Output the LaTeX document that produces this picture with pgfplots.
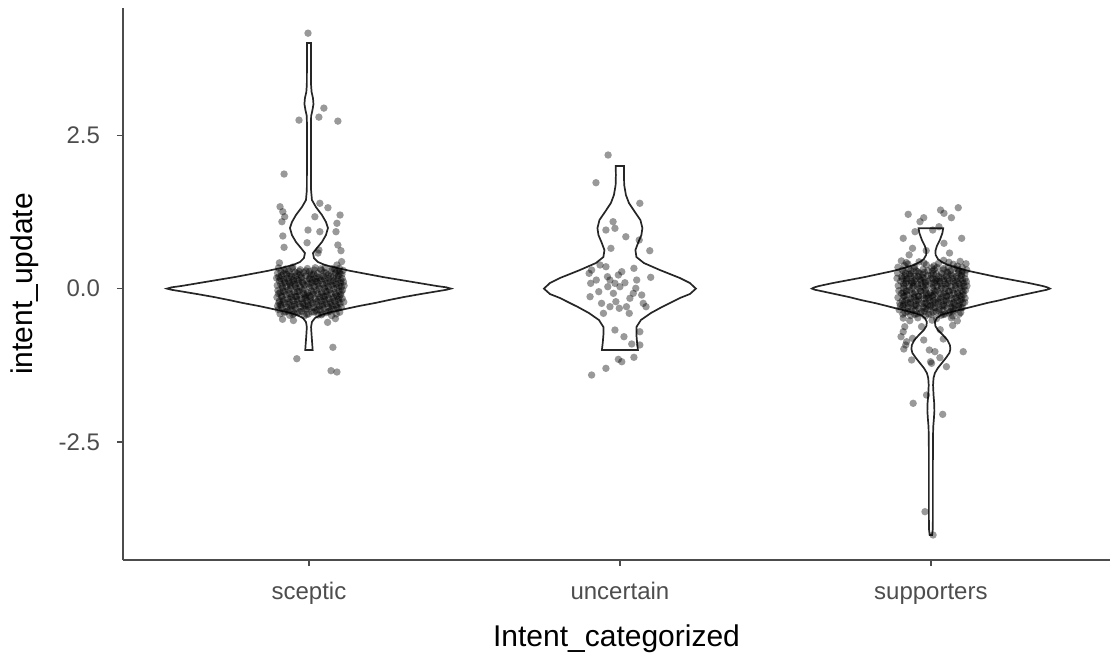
\documentclass[border=0pt]{standalone}
\usepackage{fontspec}
\setmainfont{Liberation Sans}
\usepackage{pgfplots}
\pgfplotsset{compat=1.18}
\usepackage{pgfplotstable}

\definecolor{axgray}{gray}{0.3}
\definecolor{txtgray}{HTML}{4D4D4D}

% violin outlines: y, half-width (in category units)
\pgfplotstableread{
y w
4.004 0
4.004 0.0064
3.727 0.0064
3.319 0.0068
3.205 0.0085
3.107 0.0129
3.009 0.0145
2.912 0.0113
2.814 0.0070
2.667 0.0064
2.097 0.0064
1.607 0.0068
1.444 0.0096
1.330 0.0225
1.200 0.0418
1.086 0.0547
0.988 0.0611
0.874 0.0547
0.760 0.0418
0.662 0.0257
0.580 0.0129
0.499 0.0161
0.434 0.0289
0.385 0.0514
0.336 0.0900
0.287 0.1350
0.238 0.1865
0.189 0.2379
0.140 0.2958
0.091 0.3537
0.042 0.4116
0.021 0.4420
0.000 0.4566
-0.019 0.4420
-0.039 0.4180
-0.088 0.3601
-0.137 0.3055
-0.186 0.2572
-0.235 0.2122
-0.284 0.1608
-0.333 0.1158
-0.382 0.0707
-0.430 0.0386
-0.479 0.0193
-0.544 0.0096
-0.626 0.0068
-0.756 0.0084
-0.887 0.0103
-1.001 0.0119
-1.001 0
}\vsceptic

\pgfplotstableread{
y w
1.999 0
1.999 0.0135
1.852 0.0129
1.689 0.0138
1.526 0.0193
1.396 0.0289
1.249 0.0482
1.118 0.0659
0.988 0.0723
0.874 0.0691
0.760 0.0595
0.629 0.0498
0.515 0.0531
0.417 0.0772
0.303 0.1286
0.173 0.1929
0.091 0.2251
0.000 0.2444
-0.088 0.2251
-0.153 0.1929
-0.235 0.1608
-0.300 0.1350
-0.398 0.0997
-0.512 0.0675
-0.626 0.0531
-0.756 0.0531
-0.887 0.0553
-1.001 0.0579
-1.001 0
}\vuncertain

\pgfplotstableread{
y w
0.983 0
0.983 0.0395
0.906 0.0370
0.792 0.0289
0.694 0.0193
0.613 0.0145
0.548 0.0154
0.483 0.0225
0.434 0.0354
0.385 0.0547
0.336 0.0868
0.287 0.1222
0.238 0.1672
0.189 0.2122
0.140 0.2637
0.091 0.3151
0.042 0.3601
0.020 0.3750
0.000 0.3826
-0.020 0.3720
-0.039 0.3537
-0.088 0.3087
-0.137 0.2637
-0.186 0.2251
-0.235 0.1801
-0.284 0.1415
-0.333 0.1029
-0.382 0.0643
-0.430 0.0322
-0.479 0.0193
-0.544 0.0129
-0.610 0.0145
-0.675 0.0225
-0.756 0.0386
-0.838 0.0531
-0.919 0.0611
-0.985 0.0627
-1.050 0.0595
-1.131 0.0482
-1.213 0.0354
-1.294 0.0225
-1.376 0.0129
-1.457 0.0085
-1.572 0.0070
-1.735 0.0085
-1.865 0.0106
-1.995 0.0113
-2.126 0.0096
-2.256 0.0075
-2.468 0.0066
-2.957 0.0064
-3.446 0.0064
-3.772 0.0064
-3.935 0.0058
-4.017 0.0040
-4.017 0
}\vsupporters

\begin{document}
\begin{tikzpicture}
\useasboundingbox (-61.5pt,-47.5pt) rectangle (493.5pt,280pt);
\begin{axis}[
  at={(0,0)}, anchor=south west,
  scale only axis, width=493.5pt, height=276pt,
  xmin=0.402, xmax=3.576, ymin=-4.425, ymax=4.575,
  axis x line*=bottom, axis y line*=left,
  axis line style={draw=axgray, line width=0.7pt, -},
  xtick={1,2,3}, xticklabels={sceptic,uncertain,supporters},
  ytick={-2.5,0,2.5}, yticklabels={-2.5,0.0,2.5},
  tick align=outside, major tick length=3pt,
  tick style={draw=axgray, line width=0.7pt},
  tick label style={font=\fontsize{12}{14}\selectfont, text=txtgray},
  xticklabel style={yshift=-4pt, text height=9pt, text depth=2.5pt},
  yticklabel style={xshift=-5pt},
  xlabel={Intent\_categorized},
  ylabel={intent\_update},
  xlabel style={at={(axis description cs:0.5,-0.156)}, anchor=base, font=\fontsize{15}{18}\selectfont, text=black},
  ylabel style={at={(axis description cs:-0.0912,0.5)}, anchor=base, font=\fontsize{15}{18}\selectfont, text=black},
  clip=false,
  violin/.style={draw=black!85, line width=0.85pt, no markers},
  pts/.style={only marks, color=black, mark=*, mark size=1.85pt, mark options={draw opacity=0, fill=black, fill opacity=0.4}},
]
\addplot[violin] table[x expr=1+\thisrow{w}, y=y] {\vsceptic};
\addplot[violin] table[x expr=1-\thisrow{w}, y=y] {\vsceptic};
\addplot[violin] table[x expr=2+\thisrow{w}, y=y] {\vuncertain};
\addplot[violin] table[x expr=2-\thisrow{w}, y=y] {\vuncertain};
\addplot[violin] table[x expr=3+\thisrow{w}, y=y] {\vsupporters};
\addplot[violin] table[x expr=3-\thisrow{w}, y=y] {\vsupporters};

% sceptic points
\addplot[pts] coordinates {
(0.997,4.165) (1.048,2.943) (1.032,2.796) (0.968,2.747) (1.093,2.731) (0.920,1.868)
(0.907,1.335) (0.916,1.254) (0.922,1.172) (0.913,1.091) (1.035,1.391) (1.061,1.319)
(1.100,1.200) (1.090,1.065) (0.997,0.955) (1.035,0.928) (1.019,1.172) (0.916,0.858)
(1.087,0.928) (0.920,0.673) (0.994,0.748) (1.032,0.629) (1.093,0.711) (1.103,0.618)
(1.090,0.385) (1.029,0.580) (0.905,0.420) (1.105,0.440)
(1.077,-0.957) (0.961,-1.143) (1.071,-1.338) (1.090,-1.360)
(0.915,-0.500) (1.085,-0.490) (1.060,-0.550) (0.950,-0.520)
(0.902,0.338) (0.948,0.352) (0.995,0.327) (1.052,0.345) (1.098,0.331)
(0.921,0.296) (0.968,0.281) (1.017,0.302) (1.071,0.288) (1.110,0.297)
(0.899,0.252) (0.940,0.239) (0.983,0.261) (1.028,0.246) (1.085,0.255)
(0.912,0.214) (0.957,0.205) (1.004,0.219) (1.046,0.201) (1.094,0.212) (0.977,0.192)
(0.930,0.168) (0.975,0.176) (1.021,0.161) (1.064,0.174) (1.107,0.165) (0.896,0.171)
(0.905,0.127) (0.950,0.136) (0.993,0.121) (1.038,0.133) (1.080,0.125) (1.012,0.142)
(0.923,0.094) (0.966,0.083) (1.009,0.097) (1.057,0.088) (1.101,0.091) (0.945,0.101)
(0.898,0.052) (0.941,0.046) (0.986,0.058) (1.030,0.041) (1.075,0.054) (1.113,0.048)
(0.915,0.013) (0.960,0.005) (1.002,0.019) (1.049,0.008) (1.090,0.016)
(0.934,-0.021) (0.979,-0.014) (1.024,-0.027) (1.067,-0.018) (1.108,-0.024) (0.900,-0.031)
(0.907,-0.062) (0.953,-0.055) (0.996,-0.068) (1.041,-0.059) (1.083,-0.064)
(0.926,-0.098) (0.970,-0.106) (1.013,-0.092) (1.059,-0.103) (1.102,-0.097) (0.988,-0.111)
(0.897,-0.142) (0.943,-0.135) (0.989,-0.148) (1.034,-0.139) (1.078,-0.145)
(0.917,-0.183) (0.962,-0.176) (1.006,-0.189) (1.052,-0.181) (1.095,-0.172)
(0.937,-0.221) (0.981,-0.229) (1.026,-0.214) (1.070,-0.226) (1.112,-0.219) (0.903,-0.232)
(0.909,-0.262) (0.955,-0.255) (0.998,-0.268) (1.044,-0.259) (1.087,-0.264)
(0.929,-0.302) (0.973,-0.295) (1.016,-0.309) (1.062,-0.298) (1.104,-0.306)
(0.901,-0.342) (0.946,-0.351) (0.991,-0.337) (1.036,-0.346) (1.081,-0.339)
(0.920,-0.388) (0.964,-0.395) (1.010,-0.382) (1.055,-0.392) (1.099,-0.385)
(0.938,-0.436) (0.985,-0.445) (1.030,-0.431) (1.073,-0.441)
(0.925,0.318) (0.972,0.309) (1.038,0.322) (1.083,0.312)
(0.910,0.274) (0.955,0.268) (1.002,0.279) (1.049,0.265) (1.097,0.271)
(0.928,0.231) (0.971,0.226) (1.015,0.236) (1.062,0.228) (1.106,0.233)
(0.903,0.188) (0.944,0.195) (1.033,0.184) (1.079,0.191)
(0.918,0.151) (0.962,0.145) (1.003,0.156) (1.051,0.148) (1.093,0.153)
(0.935,0.112) (0.979,0.106) (1.025,0.115) (1.069,0.108) (1.111,0.110)
(0.909,0.071) (0.955,0.066) (0.998,0.075) (1.044,0.069) (1.088,0.072)
(0.928,0.031) (0.972,0.026) (1.017,0.034) (1.062,0.028) (1.104,0.033)
(0.917,-0.041) (0.963,-0.046) (1.008,-0.038) (1.054,-0.044) (1.097,-0.040)
(0.938,-0.081) (0.982,-0.077) (1.028,-0.085) (1.071,-0.079) (0.902,-0.083)
(0.911,-0.121) (0.957,-0.126) (1.001,-0.118) (1.047,-0.124) (1.090,-0.120)
(0.931,-0.161) (0.976,-0.166) (1.020,-0.158) (1.064,-0.163) (1.107,-0.160)
(0.905,-0.201) (0.949,-0.197) (0.994,-0.205) (1.039,-0.199) (1.083,-0.203)
(0.923,-0.241) (0.968,-0.246) (1.012,-0.238) (1.057,-0.244) (1.100,-0.240)
(0.944,-0.281) (0.987,-0.277) (1.033,-0.285) (1.075,-0.279) (0.899,-0.284)
(0.914,-0.321) (0.958,-0.326) (1.004,-0.318) (1.049,-0.324) (1.094,-0.320)
(0.932,-0.364) (0.977,-0.369) (1.023,-0.361) (1.068,-0.367)
(0.907,-0.412) (0.952,-0.407) (0.998,-0.415) (1.043,-0.409) (1.088,-0.413)
(0.946,0.330) (1.020,0.340) (1.075,0.325)
(0.935,0.292) (0.990,0.288) (1.040,0.298) (1.090,0.283)
(0.918,0.244) (0.962,0.250) (1.008,0.241) (1.055,0.253) (1.100,0.245)
(0.936,0.204) (0.990,0.209) (1.025,0.198) (1.070,0.206)
(0.908,0.163) (0.952,0.158) (1.000,0.167) (1.042,0.160) (1.087,0.166)
(0.922,0.122) (0.968,0.129) (1.020,0.119) (1.060,0.126) (1.102,0.131)
(0.938,0.084) (0.981,0.090) (1.030,0.081) (1.078,0.086)
(0.914,0.043) (0.956,0.038) (1.008,0.046) (1.052,0.040) (1.097,0.044)
(0.940,0.004) (0.984,-0.003) (1.033,0.006) (1.080,-0.001)
(0.922,-0.052) (0.968,-0.048) (1.015,-0.056) (1.060,-0.050) (1.104,-0.054)
(0.946,-0.093) (0.993,-0.099) (1.040,-0.090) (1.086,-0.095)
(0.913,-0.134) (0.960,-0.130) (1.006,-0.138) (1.052,-0.132) (1.098,-0.136)
(0.939,-0.174) (0.985,-0.170) (1.030,-0.178) (1.075,-0.173)
(0.916,-0.214) (0.961,-0.210) (1.005,-0.218) (1.049,-0.212) (1.094,-0.216)
(0.935,-0.256) (0.980,-0.251) (1.024,-0.259) (1.068,-0.254)
(0.910,-0.295) (0.953,-0.290) (0.997,-0.298) (1.043,-0.292) (1.089,-0.297)
(0.939,-0.334) (0.983,-0.330) (1.027,-0.338) (1.072,-0.332)
(0.925,-0.378) (0.970,-0.374) (1.017,-0.380) (1.062,-0.376)
(0.948,-0.424) (0.993,-0.420) (1.040,-0.427)
};

% uncertain points
\addplot[pts] coordinates {
(1.962,2.178) (1.923,1.727) (2.064,1.391) (1.978,1.091) (1.955,0.955) (1.984,0.983)
(2.019,0.846) (2.062,0.792) (2.096,0.618) (1.971,0.657) (1.955,0.357) (1.909,0.303)
(1.936,0.385) (1.901,0.249) (2.045,0.331) (2.099,0.184) (1.995,0.222) (1.968,0.140)
(2.054,0.140) (1.906,0.086) (1.961,0.031) (1.984,0.086) (2.016,0.096) (2.051,0.005)
(1.904,-0.132) (1.941,-0.240) (1.987,-0.213) (1.968,-0.295) (1.998,-0.321) (2.032,-0.158)
(2.030,-0.403) (2.075,-0.240) (2.084,-0.295) (1.947,-0.403) (1.984,-0.675) (2.013,-0.784)
(2.038,-0.903) (2.064,-0.703) (2.064,-0.919) (1.995,-1.153) (2.006,-1.192) (2.045,-1.120)
(1.955,-1.300) (1.909,-1.409) (1.960,0.194) (2.006,0.276) (1.924,0.140) (2.043,-0.077)
(1.979,-0.077) (1.932,-0.050) (2.070,-0.104) (2.000,0.031) (2.021,-0.295)
};

% supporters points
\addplot[pts] coordinates {
(2.927,1.211) (2.965,1.091) (2.977,1.156) (3.031,1.281) (3.042,1.228) (3.066,1.156)
(3.088,1.319) (2.949,0.928) (2.911,0.820) (2.941,0.657) (3.042,0.739) (3.099,0.820)
(3.006,0.955) (3.026,1.009) (2.985,0.620) (3.060,0.580) (2.930,0.550)
(2.916,-0.621) (2.911,-0.703) (2.922,-0.866) (2.913,-0.985) (2.938,-1.164) (2.995,-1.001)
(3.013,-1.028) (3.029,-1.126) (2.999,-1.192) (3.050,-1.273) (3.104,-1.028) (2.977,-0.838)
(3.040,-0.822) (2.941,-0.811) (2.986,-1.735) (2.943,-1.870) (3.038,-2.050) (2.981,-3.637)
(3.007,-4.017) (2.919,-0.919) (2.904,-0.784) (3.002,-1.218) (2.970,-0.620) (3.070,-0.600)
(3.030,-0.670)
(2.905,0.452) (2.962,0.437) (3.041,0.461) (3.094,0.444)
(2.926,0.402) (2.985,0.391) (3.024,0.409) (3.072,0.397) (3.113,0.405)
(2.894,0.348) (2.948,0.357) (3.003,0.341) (3.056,0.352) (3.101,0.345)
(2.908,0.301) (2.953,0.289) (3.011,0.312) (3.063,0.294) (3.115,0.305)
(2.893,0.254) (2.936,0.243) (2.979,0.265) (3.034,0.249) (3.088,0.258)
(2.916,0.209) (2.959,0.198) (3.001,0.221) (3.049,0.204) (3.098,0.214) (2.972,0.186)
(2.925,0.163) (2.978,0.172) (3.019,0.157) (3.068,0.169) (3.110,0.161) (2.891,0.168)
(2.903,0.122) (2.946,0.131) (2.991,0.118) (3.041,0.129) (3.083,0.121) (3.015,0.139)
(2.919,0.088) (2.969,0.079) (3.012,0.093) (3.054,0.084) (3.104,0.087) (2.942,0.097)
(2.895,0.049) (2.944,0.042) (2.983,0.055) (3.033,0.038) (3.078,0.051) (3.116,0.045)
(2.912,0.009) (2.963,0.002) (3.005,0.016) (3.046,0.005) (3.093,0.012)
(2.931,-0.025) (2.982,-0.018) (3.021,-0.031) (3.070,-0.022) (3.111,-0.028) (2.897,-0.035)
(2.910,-0.066) (2.950,-0.059) (2.999,-0.072) (3.044,-0.063) (3.086,-0.068)
(2.923,-0.102) (2.973,-0.110) (3.010,-0.096) (3.062,-0.107) (3.105,-0.101) (2.985,-0.115)
(2.894,-0.146) (2.946,-0.139) (2.992,-0.152) (3.031,-0.143) (3.081,-0.149)
(2.920,-0.187) (2.959,-0.180) (3.009,-0.193) (3.049,-0.185) (3.098,-0.176)
(2.934,-0.225) (2.984,-0.233) (3.023,-0.218) (3.073,-0.230) (3.109,-0.223) (2.900,-0.236)
(2.912,-0.266) (2.952,-0.259) (3.001,-0.272) (3.041,-0.263) (3.090,-0.268)
(2.926,-0.306) (2.976,-0.299) (3.013,-0.313) (3.065,-0.302) (3.101,-0.310)
(2.898,-0.346) (2.949,-0.355) (2.988,-0.341) (3.039,-0.350) (3.078,-0.343)
(2.917,-0.392) (2.967,-0.399) (3.007,-0.386) (3.058,-0.396) (3.096,-0.389)
(2.935,-0.440) (2.982,-0.449) (3.033,-0.435) (3.070,-0.445)
(2.911,-0.481) (2.958,-0.476) (3.018,-0.489) (3.066,-0.478)
(2.932,-0.523) (3.004,-0.515) (3.085,-0.526)
(2.921,0.425) (2.978,0.418) (3.058,0.430) (3.010,0.372) (2.915,0.375) (3.085,0.368)
(2.928,0.323) (2.975,0.314) (3.041,0.327) (3.086,0.317)
(2.913,0.279) (2.958,0.273) (3.005,0.284) (3.052,0.270) (3.100,0.276)
(2.931,0.236) (2.974,0.231) (3.018,0.241) (3.065,0.233) (3.109,0.238)
(2.906,0.193) (2.947,0.200) (3.036,0.189) (3.082,0.196)
(2.921,0.156) (2.965,0.150) (3.006,0.161) (3.054,0.153) (3.096,0.158)
(2.938,0.117) (2.982,0.111) (3.028,0.120) (3.072,0.113) (3.114,0.115)
(2.912,0.076) (2.958,0.071) (3.001,0.080) (3.047,0.074) (3.091,0.077)
(2.931,0.036) (2.975,0.031) (3.020,0.039) (3.065,0.033) (3.107,0.038)
(2.920,-0.036) (2.966,-0.041) (3.011,-0.033) (3.057,-0.039) (3.100,-0.035)
(2.941,-0.076) (2.985,-0.072) (3.031,-0.080) (3.074,-0.074) (2.905,-0.078)
(2.914,-0.116) (2.960,-0.121) (3.004,-0.113) (3.050,-0.119) (3.093,-0.115)
(2.934,-0.156) (2.979,-0.161) (3.023,-0.153) (3.067,-0.158) (3.110,-0.155)
(2.908,-0.196) (2.952,-0.192) (2.997,-0.200) (3.042,-0.194) (3.086,-0.198)
(2.926,-0.236) (2.971,-0.241) (3.015,-0.233) (3.060,-0.239) (3.103,-0.235)
(2.947,-0.276) (2.990,-0.272) (3.036,-0.280) (3.078,-0.274) (2.902,-0.279)
(2.917,-0.316) (2.961,-0.321) (3.007,-0.313) (3.052,-0.319) (3.097,-0.315)
(2.935,-0.369) (2.980,-0.374) (3.026,-0.366) (3.071,-0.372)
(2.910,-0.417) (2.955,-0.412) (3.001,-0.420) (3.046,-0.414) (3.091,-0.418)
(2.946,0.334) (3.020,0.344) (3.075,0.329)
(2.935,0.296) (2.990,0.292) (3.040,0.302) (3.090,0.287)
(2.918,0.248) (2.962,0.254) (3.008,0.245) (3.055,0.257) (3.100,0.249)
(2.936,0.208) (2.990,0.213) (3.025,0.202) (3.070,0.210)
(2.908,0.167) (2.952,0.162) (3.000,0.171) (3.042,0.164) (3.087,0.170)
(2.922,0.126) (2.968,0.133) (3.020,0.123) (3.060,0.130) (3.102,0.135)
(2.938,0.088) (2.981,0.094) (3.030,0.085) (3.078,0.090)
(2.914,0.047) (2.956,0.042) (3.008,0.050) (3.052,0.044) (3.097,0.048)
(2.940,0.008) (2.984,0.001) (3.033,0.010) (3.080,0.003)
(2.922,-0.048) (2.968,-0.044) (3.015,-0.052) (3.060,-0.046) (3.104,-0.050)
(2.946,-0.089) (2.993,-0.095) (3.040,-0.086) (3.086,-0.091)
(2.913,-0.130) (2.960,-0.126) (3.006,-0.134) (3.052,-0.128) (3.098,-0.132)
(2.939,-0.170) (2.985,-0.166) (3.030,-0.174) (3.075,-0.169)
(2.916,-0.210) (2.961,-0.206) (3.005,-0.214) (3.049,-0.208) (3.094,-0.212)
(2.935,-0.252) (2.980,-0.247) (3.024,-0.255) (3.068,-0.250)
(2.910,-0.291) (2.953,-0.286) (2.997,-0.294) (3.043,-0.288) (3.089,-0.293)
(2.939,-0.330) (2.983,-0.326) (3.027,-0.334) (3.072,-0.328)
(2.925,-0.374) (2.970,-0.370) (3.017,-0.376) (3.062,-0.372)
(2.948,-0.420) (2.993,-0.416) (3.040,-0.423)
};
\end{axis}
\end{tikzpicture}
\end{document}
